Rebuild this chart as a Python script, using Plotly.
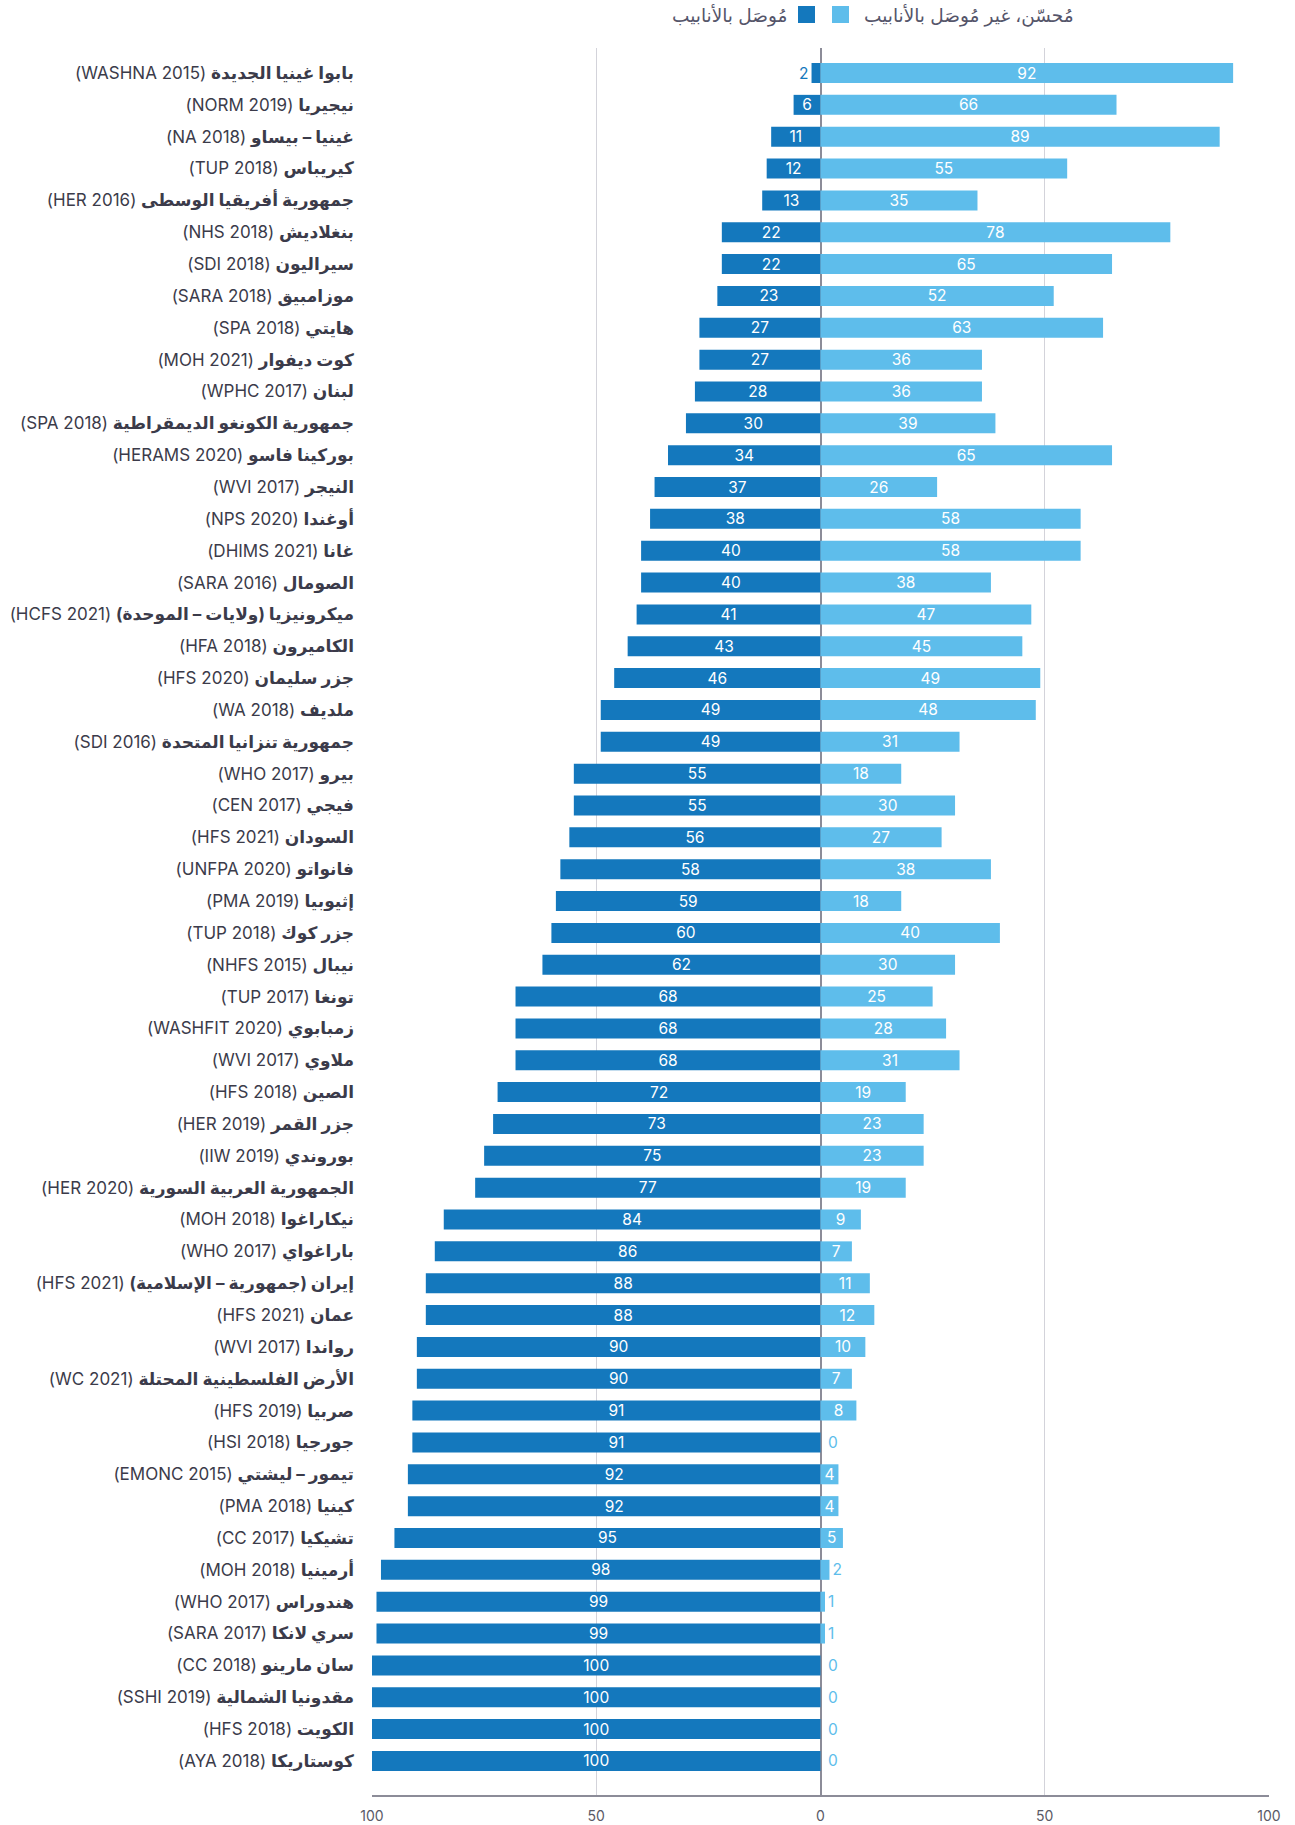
import plotly.graph_objects as go

# Health-care facilities: water service type by country (survey, year)
countries = [
    "بابوا غينيا الجديدة", "نيجيريا", "غينيا – بيساو", "كيريباس",
    "جمهورية أفريقيا الوسطى", "بنغلاديش", "سيراليون", "موزامبيق", "هايتي",
    "كوت ديفوار", "لبنان", "جمهورية الكونغو الديمقراطية", "بوركينا فاسو",
    "النيجر", "أوغندا", "غانا", "الصومال", "ميكرونيزيا (ولايات – الموحدة)",
    "الكاميرون", "جزر سليمان", "ملديف", "جمهورية تنزانيا المتحدة", "بيرو",
    "فيجي", "السودان", "فانواتو", "إثيوبيا", "جزر كوك", "نيبال", "تونغا",
    "زمبابوي", "ملاوي", "الصين", "جزر القمر", "بوروندي",
    "الجمهورية العربية السورية", "نيكاراغوا", "باراغواي",
    "إيران (جمهورية – الإسلامية)", "عمان", "رواندا",
    "الأرض الفلسطينية المحتلة", "صربيا", "جورجيا", "تيمور – ليشتي", "كينيا",
    "تشيكيا", "أرمينيا", "هندوراس", "سري لانكا", "سان مارينو",
    "مقدونيا الشمالية", "الكويت", "كوستاريكا",
]
sources = [
    "WASHNA 2015", "NORM 2019", "NA 2018", "TUP 2018", "HER 2016", "NHS 2018",
    "SDI 2018", "SARA 2018", "SPA 2018", "MOH 2021", "WPHC 2017", "SPA 2018",
    "HERAMS 2020", "WVI 2017", "NPS 2020", "DHIMS 2021", "SARA 2016",
    "HCFS 2021", "HFA 2018", "HFS 2020", "WA 2018", "SDI 2016", "WHO 2017",
    "CEN 2017", "HFS 2021", "UNFPA 2020", "PMA 2019", "TUP 2018", "NHFS 2015",
    "TUP 2017", "WASHFIT 2020", "WVI 2017", "HFS 2018", "HER 2019", "IIW 2019",
    "HER 2020", "MOH 2018", "WHO 2017", "HFS 2021", "HFS 2021", "WVI 2017",
    "WC 2021", "HFS 2019", "HSI 2018", "EMONC 2015", "PMA 2018", "CC 2017",
    "MOH 2018", "WHO 2017", "SARA 2017", "CC 2018", "SSHI 2019", "HFS 2018",
    "AYA 2018",
]
piped = [
    2, 6, 11, 12, 13, 22, 22, 23, 27, 27, 28, 30, 34, 37, 38, 40, 40, 41, 43,
    46, 49, 49, 55, 55, 56, 58, 59, 60, 62, 68, 68, 68, 72, 73, 75, 77, 84,
    86, 88, 88, 90, 90, 91, 91, 92, 92, 95, 98, 99, 99, 100, 100, 100, 100,
]
improved_not_piped = [
    92, 66, 89, 55, 35, 78, 65, 52, 63, 36, 36, 39, 65, 26, 58, 58, 38, 47,
    45, 49, 48, 31, 18, 30, 27, 38, 18, 40, 30, 25, 28, 31, 19, 23, 23, 19,
    9, 7, 11, 12, 10, 7, 8, 0, 4, 4, 5, 2, 1, 1, 0, 0, 0, 0,
]
series_names = ["مُوصَل بالأنابيب", "مُحسّن، غير مُوصَل بالأنابيب"]
axis_ticks = [-100, -50, 0, 50, 100]
axis_tick_text = ["100", "50", "0", "50", "100"]

DARK = "#1478bd"
LIGHT = "#5ebdeb"
GRID = "#d3d3da"
AXIS = "#8c8c98"
LABEL = "#3b3b4a"
NUM_FONT = "Inter, Lato, sans-serif"
LBL_FONT = "Inter, 'Noto Sans', 'DejaVu Sans', sans-serif"

# right-to-left embedding so the Arabic name reads first, source code after
RLE, PDF = "\u202B", "\u202C"

categories = [f"{c} ({s})" for c, s in zip(countries, sources)]
tick_text = [f"<b>{RLE}{c}</b> ({s}){PDF}" for c, s in zip(countries, sources)]

W, H = 1295, 1825
ML, MR, MT, MB = 372, 26, 48, 30
plot_w = W - ML - MR
plot_h = H - MT - MB


def px_x(px):
    return (px - ML) / plot_w


def px_y(py):
    return (H - MB - py) / plot_h


fig = go.Figure()

bar_text_style = dict(
    textposition="auto",
    insidetextanchor="middle",
    constraintext="none",
    textangle=0,
    cliponaxis=False,
    hoverinfo="skip",
    orientation="h",
)

# piped water, drawn to the left of zero
fig.add_bar(
    y=categories,
    x=[-v for v in piped],
    name=series_names[0],
    marker=dict(color=DARK, line=dict(width=0)),
    text=[str(v) for v in piped],
    insidetextfont=dict(color="white", size=15.5, family=NUM_FONT),
    outsidetextfont=dict(color=DARK, size=15.5, family=NUM_FONT),
    **bar_text_style,
)

# improved but not piped, drawn to the right of zero
fig.add_bar(
    y=categories,
    x=improved_not_piped,
    name=series_names[1],
    marker=dict(color=LIGHT, line=dict(width=0)),
    text=[str(v) if v > 0 else "" for v in improved_not_piped],
    insidetextfont=dict(color="white", size=15.5, family=NUM_FONT),
    outsidetextfont=dict(color=LIGHT, size=15.5, family=NUM_FONT),
    **bar_text_style,
)

# zero-valued bars have no width, so their labels sit just right of zero
for cat, v in zip(categories, improved_not_piped):
    if v == 0:
        fig.add_annotation(
            x=v, y=cat, xref="x", yref="y", text=str(v), showarrow=False,
            xanchor="left", yanchor="middle", xshift=5,
            font=dict(color=LIGHT, size=15.5, family=NUM_FONT),
        )

n = len(categories)
fig.update_layout(
    width=W,
    height=H,
    margin=dict(l=ML, r=MR, t=MT, b=MB),
    paper_bgcolor="white",
    plot_bgcolor="white",
    barmode="overlay",
    bargap=0.372,
    showlegend=False,
    font=dict(family=LBL_FONT, color=LABEL),
)

fig.update_xaxes(
    range=[-100, 100],
    tickmode="array",
    tickvals=axis_ticks,
    ticktext=axis_tick_text,
    tickfont=dict(size=14, color="#5a5a66", family=NUM_FONT),
    ticks="outside",
    ticklen=7,
    tickcolor="rgba(0,0,0,0)",
    showgrid=True,
    gridcolor=GRID,
    gridwidth=1,
    zeroline=True,
    zerolinecolor=AXIS,
    zerolinewidth=2,
    showline=True,
    linecolor=AXIS,
    linewidth=2,
    mirror=False,
    automargin=False,
    fixedrange=True,
)

fig.update_yaxes(
    type="category",
    categoryorder="array",
    categoryarray=categories,
    range=[n - 1 + 1.07, -0.785],
    tickmode="array",
    tickvals=categories,
    ticktext=tick_text,
    tickfont=dict(size=17, color=LABEL, family=LBL_FONT),
    ticks="",
    ticklabelstandoff=17,
    showgrid=False,
    showline=False,
    automargin=False,
    fixedrange=True,
)

# legend: swatches and labels across the top
fig.add_shape(type="rect", xref="paper", yref="paper",
              x0=px_x(798), x1=px_x(815), y0=px_y(23), y1=px_y(6),
              fillcolor=DARK, line=dict(width=0))
fig.add_shape(type="rect", xref="paper", yref="paper",
              x0=px_x(832), x1=px_x(849), y0=px_y(23), y1=px_y(6),
              fillcolor=LIGHT, line=dict(width=0))
fig.add_annotation(xref="paper", yref="paper", x=px_x(789), y=px_y(15),
                   xanchor="right", yanchor="middle", showarrow=False,
                   text=RLE + series_names[0] + PDF,
                   font=dict(size=18.5, color="#55556a", family=LBL_FONT))
fig.add_annotation(xref="paper", yref="paper", x=px_x(862), y=px_y(15),
                   xanchor="left", yanchor="middle", showarrow=False,
                   text=RLE + series_names[1] + PDF,
                   font=dict(size=18.5, color="#55556a", family=LBL_FONT))

fig.write_html("out.html")
